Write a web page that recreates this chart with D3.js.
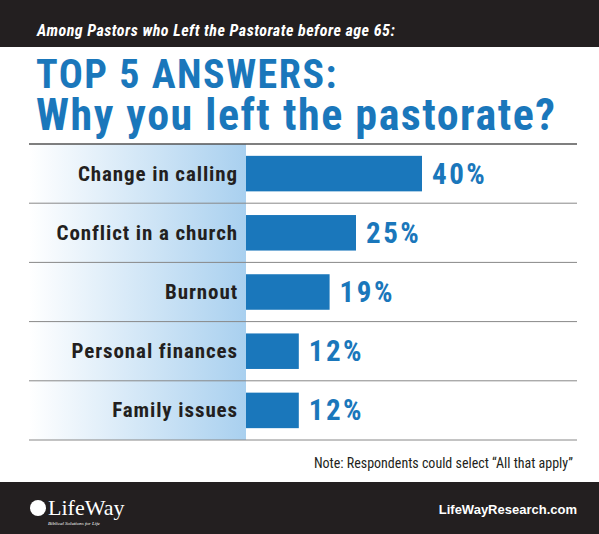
<!DOCTYPE html>
<html><head><meta charset="utf-8">
<script src="https://cdn.jsdelivr.net/npm/d3@7"></script>
<style>body{margin:0;background:#fff}</style></head>
<body><div id="chart"></div>
<script>
var categories = ["Change in calling", "Conflict in a church", "Burnout", "Personal finances", "Family issues"];
var values = [40, 25, 19, 12, 12];
var valueLabels = ["40%", "25%", "19%", "12%", "12%"];

var W = 599, H = 534, blue = "#1a77bb", cond = "'Liberation Sans Narrow', 'Roboto Condensed', 'Liberation Sans', sans-serif";
var svg = d3.select("#chart").append("svg").attr("width", W).attr("height", H);

var defs = svg.append("defs");
var grad = defs.append("linearGradient").attr("id", "pg");
grad.append("stop").attr("offset", "0%").attr("stop-color", "#ffffff");
grad.append("stop").attr("offset", "100%").attr("stop-color", "#a9d0ef");

// header band
svg.append("rect").attr("width", W).attr("height", 47).attr("fill", "#231f20");
svg.append("text").attr("x", 37).attr("y", 36).attr("fill", "#fff")
    .attr("font-family", cond).attr("font-style", "italic").attr("font-weight", "bold").attr("font-size", 16)
    .attr("letter-spacing", 0.5)
    .text("Among Pastors who Left the Pastorate before age 65:");

svg.append("text").attr("x", 36).attr("y", 88).attr("fill", blue).attr("font-family", cond)
    .attr("font-weight", "bold").attr("font-size", 40).attr("letter-spacing", 1.5).text("TOP 5 ANSWERS:");
svg.append("text").attr("x", 36).attr("y", 130).attr("fill", blue).attr("font-family", cond)
    .attr("font-weight", "bold").attr("font-size", 44).attr("letter-spacing", 1.5).text("Why you left the pastorate?");

var tableTop = 144, rowH = 59.2, left = 29, right = 577, x0 = 246;
svg.append("rect").attr("x", left).attr("y", tableTop).attr("width", x0 - left).attr("height", rowH * 5).attr("fill", "url(#pg)");

var y = d3.scaleBand().domain(categories).range([tableTop, tableTop + rowH * 5]).paddingInner(0.4).paddingOuter(0.2);
var x = d3.scaleLinear().domain([0, 40]).range([x0, 422]);

svg.append("g").selectAll("line").data(d3.range(6)).enter().append("line")
    .attr("x1", left).attr("x2", right)
    .attr("y1", function(i) { return tableTop + i * rowH; }).attr("y2", function(i) { return tableTop + i * rowH; })
    .attr("stroke", function(i) { return i == 0 ? "#555" : "#888"; }).attr("stroke-width", function(i) { return i == 0 ? 1.5 : 1; });

svg.append("g").selectAll("rect").data(values).enter().append("rect")
    .attr("x", x0).attr("y", function(d, i) { return y(categories[i]); })
    .attr("width", function(d) { return x(d) - x0; }).attr("height", y.bandwidth()).attr("fill", blue);

svg.append("g").selectAll("text").data(categories).enter().append("text")
    .attr("x", 238).attr("y", function(d) { return y(d) + y.bandwidth() / 2 + 7; })
    .attr("text-anchor", "end").attr("font-family", cond).attr("font-weight", "bold").attr("font-size", 21)
    .attr("letter-spacing", 0.9)
    .attr("fill", "#231f20").text(function(d) { return d; });

svg.append("g").selectAll("text").data(values).enter().append("text")
    .attr("x", function(d) { return x(d) + 10; }).attr("y", function(d, i) { return y(categories[i]) + y.bandwidth() / 2 + 10; })
    .attr("font-family", cond).attr("font-weight", "bold").attr("font-size", 29).attr("letter-spacing", 2.5)
    .attr("fill", blue).text(function(d, i) { return valueLabels[i]; });

svg.append("text").attr("x", right - 4).attr("y", 468).attr("text-anchor", "end")
    .attr("font-family", cond).attr("font-size", 14).attr("fill", "#231f20")
    .text("Note: Respondents could select \u201cAll that apply\u201d");

// footer band
svg.append("rect").attr("y", 482).attr("width", W).attr("height", H - 482).attr("fill", "#231f20");
svg.append("circle").attr("cx", 38).attr("cy", 508).attr("r", 8).attr("fill", "#fff");
svg.append("text").attr("x", 48).attr("y", 515).attr("fill", "#fff").attr("font-family", "'Liberation Serif', serif")
    .attr("font-size", 22).text("LifeWay");
svg.append("text").attr("x", 48).attr("y", 525).attr("fill", "#fff").attr("font-family", "'Liberation Serif', serif")
    .attr("font-style", "italic").attr("font-size", 5).text("Biblical Solutions for Life");
svg.append("text").attr("x", right).attr("y", 514).attr("text-anchor", "end").attr("fill", "#fff")
    .attr("font-family", "'Liberation Sans', Arial, sans-serif").attr("font-weight", "bold").attr("font-size", 13)
    .text("LifeWayResearch.com");
</script></body></html>
